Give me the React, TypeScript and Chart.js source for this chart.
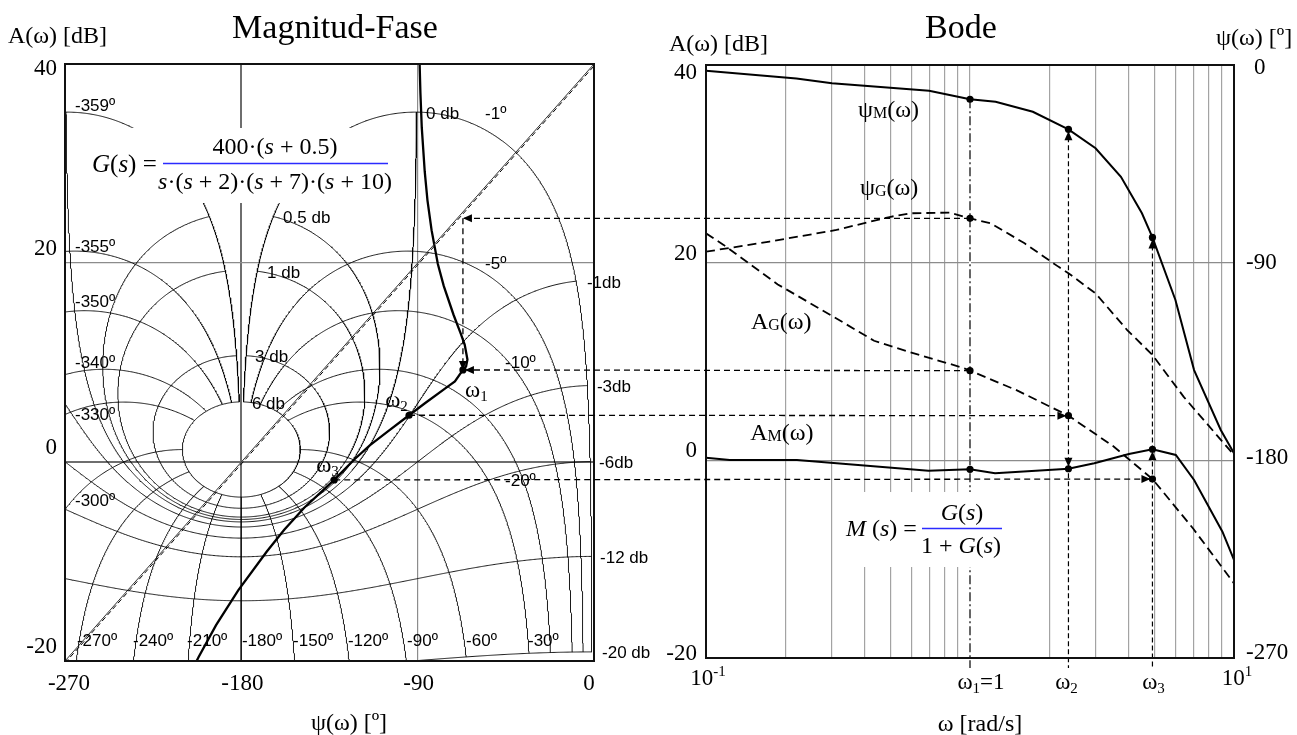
import React, { useEffect, useRef } from 'react';
import { Chart, registerables } from 'chart.js';
Chart.register(...registerables);

const SERIF = '"Liberation Serif", "Times New Roman", serif';
const SANS = '"Liberation Sans", Arial, sans-serif';

// ---------------- Magnitud-Fase (Nichols) ----------------
const nicholsXTicks = [-270, -180, -90, 0];
const nicholsYTicks = [-20, 0, 20, 40];
const mContoursDb = [-20, -12, -6, -3, -1, 0, 0.5, 1, 3, 6];
const nContoursDeg = [-1, -5, -10, -20, -30, -60, -90, -120, -150, -180, -210, -240, -270, -300, -330, -340, -350, -355, -359];
const locusPhase = [-89.0, -88.6, -87.9, -86.4, -85.0, -82.9, -79.7, -76.7, -71.7, -68.2, -66.0, -64.6, -65.3, -66.9, -71.0, -75.9, -86.3, -94.4, -105.7, -114.3, -122.1, -132.6, -147.9, -158.1, -167.0, -181.6, -192.9, -201.8, -205.6];
const locusGain = [40.0, 37.1, 33.6, 29.2, 26.3, 23.3, 19.9, 17.7, 14.8, 13.0, 11.8, 10.3, 9.6, 9.25, 8.1, 7.4, 5.9, 4.7, 3.0, 1.7, 0.3, -1.8, -4.6, -6.8, -9.0, -12.9, -16.4, -19.6, -21.1];
const markPhase = [-66.9, -94.4, -132.6];
const markGain = [9.25, 4.7, -1.8];
const diagPhase = [-270, 0];
const diagGain = [-20, 40];
const diagGainDashed = [-20.2, 39.8];

const gridLabels = [
  { t: '-359º', x: -264.9, y: 35.7 }, { t: '-355º', x: -264.9, y: 21.6 }, { t: '-350º', x: -264.9, y: 16.0 },
  { t: '-340º', x: -264.9, y: 9.95 }, { t: '-330º', x: -264.9, y: 4.7 }, { t: '-300º', x: -264.9, y: -4.0 },
  { t: '-270º', x: -263.9, y: -18.0 }, { t: '-240º', x: -235.3, y: -18.0 }, { t: '-210º', x: -207.7, y: -18.0 },
  { t: '-180º', x: -179.7, y: -18.0 }, { t: '-150º', x: -153.6, y: -18.0 }, { t: '-120º', x: -125.6, y: -18.0 },
  { t: '-90º', x: -95.4, y: -18.0 }, { t: '-60º', x: -65.3, y: -18.0 }, { t: '-30º', x: -33.7, y: -18.0 },
  { t: '-20º', x: -45.4, y: -1.9 }, { t: '-10º', x: -45.4, y: 9.95 }, { t: '-5º', x: -55.6, y: 19.9 },
  { t: '-1º', x: -55.6, y: 34.9 },
  { t: '0 db', x: -85.7, y: 34.9 }, { t: '0.5 db', x: -158.7, y: 24.5 }, { t: '1 db', x: -166.9, y: 19.0 },
  { t: '3 db', x: -173.0, y: 10.55 }, { t: '6 db', x: -174.6, y: 5.8 },
  { t: '-1db', x: -3.6, y: 18.0 }, { t: '-3db', x: 1.5, y: 7.55 }, { t: '-6db', x: 2.6, y: -0.1 },
  { t: '-12 db', x: 3.1, y: -9.65 }, { t: '-20 db', x: 4.1, y: -19.2 },
];
const omegaLabelPos = [
  { n: '1', x: -65.8, y: 7.2 }, { n: '2', x: -106.6, y: 6.2 }, { n: '3', x: -141.8, y: -0.3 },
];

// ---------------- Bode ----------------
const bodeGridOmega = [0.2, 0.3, 0.4, 0.5, 0.6, 0.7, 0.8, 0.9, 1, 2, 3, 4, 5, 6, 7, 8, 9];
const psiMOmega = [0.1, 0.22, 0.3, 0.7, 1, 1.25, 1.73, 2.36, 2.99, 3.73, 4.48, 4.91, 6.0, 7.06, 8.91, 10];
const psiM = [-2.6, -6.1, -8.3, -11.7, -15.6, -16.7, -21.3, -29.3, -37.9, -50.9, -67.5, -78.5, -107, -138.9, -166.2, -176.8];
const psiGOmega = [0.1, 0.174, 0.312, 0.5, 0.6, 0.836, 1, 1.2, 1.61, 2.16, 2.36, 2.99, 3.94, 4.91, 6.44, 10];
const psiG = [-85.0, -80.4, -75.1, -69.1, -67.5, -67.2, -69.8, -72.1, -81.2, -91.8, -94.8, -104.0, -120.7, -132.0, -151.0, -177.6];
const agOmega = [0.1, 0.1166, 0.187, 0.301, 0.433, 0.6, 0.93, 1, 1.5, 2.36, 3.5, 4.91, 7.0, 10];
const agDb = [22.97, 21.8, 17.8, 14.6, 12.1, 10.9, 9.4, 9.07, 7.1, 4.52, 1.4, -1.89, -6.9, -12.45];
const amOmega = [0.1, 0.123, 0.221, 0.696, 1, 1.244, 2.36, 2.956, 4.0, 4.91, 6.02, 7.06, 9.04, 10];
const amDb = [0.27, 0.03, 0.03, -1.05, -0.91, -1.31, -0.85, -0.30, 0.64, 1.12, 0.54, -1.99, -7.22, -10.08];
const markOmega = [1, 2.36, 4.91];
const markPsiM = [-15.6, -29.3, -78.5];
const markPsiG = [-69.8];
const markAG = [9.07, 4.52, -1.89];
const markAM = [-0.91, -0.85, 1.12];

const R_OFF = 650;

type Pt = { x: number; y: number };
type Part = { t: string; s: number; i?: boolean; dy?: number; fam?: string };

const fontOf = (p: Part) => `${p.i ? 'italic ' : ''}${p.s}px ${p.fam || SERIF}`;
function drawParts(ctx: CanvasRenderingContext2D, parts: Part[], x: number, baseline: number, align: string) {
  let w = 0;
  for (const p of parts) { ctx.font = fontOf(p); w += ctx.measureText(p.t).width; }
  let cx = align === 'center' ? x - w / 2 : align === 'right' ? x - w : x;
  ctx.textAlign = 'left';
  ctx.textBaseline = 'alphabetic';
  for (const p of parts) {
    ctx.font = fontOf(p);
    ctx.fillText(p.t, cx, baseline + (p.dy || 0));
    cx += ctx.measureText(p.t).width;
  }
}

function nicholsPt(mDb: number, phiDeg: number): Pt {
  const m = Math.pow(10, mDb / 20);
  const p = (phiDeg * Math.PI) / 180;
  const re = 1 - m * Math.cos(p);
  const im = -m * Math.sin(p);
  const mag = m / Math.hypot(re, im);
  return { x: phiDeg - (Math.atan2(im, re) * 180) / Math.PI, y: 20 * Math.log10(mag) };
}

function sampleCurve(f: (t: number) => Pt, t0: number, t1: number, n: number): Pt[] {
  const pts: Pt[] = [];
  const dist = (a: Pt, b: Pt) => Math.hypot((a.x - b.x) * 1.96, (a.y - b.y) * 9.95);
  const off = (a: Pt, b: Pt) => (a.y > 42 && b.y > 42) || (a.y < -22 && b.y < -22) || (a.x < -273 && b.x < -273) || (a.x > 3 && b.x > 3);
  const rec = (ta: number, pa: Pt, tb: number, pb: Pt, d: number) => {
    if (d >= 16 || dist(pa, pb) < 1.5 || off(pa, pb)) return;
    const tm = (ta + tb) / 2;
    const pm = f(tm);
    rec(ta, pa, tm, pm, d + 1);
    pts.push(pm);
    rec(tm, pm, tb, pb, d + 1);
  };
  let ta = t0;
  let pa = f(t0);
  pts.push(pa);
  for (let i = 1; i <= n; i++) {
    const tb = t0 + ((t1 - t0) * i) / n;
    const pb = f(tb);
    rec(ta, pa, tb, pb, 0);
    pts.push(pb);
    ta = tb;
    pa = pb;
  }
  return pts;
}

const zip = (xs: number[], ys: number[]) => xs.map((x, i) => ({ x, y: ys[i] }));

function arrow(ctx: CanvasRenderingContext2D, x: number, y: number, dir: string) {
  const L = 9, W = 4;
  ctx.beginPath();
  ctx.moveTo(x, y);
  if (dir === 'left') { ctx.lineTo(x + L, y - W); ctx.lineTo(x + L, y + W); }
  if (dir === 'right') { ctx.lineTo(x - L, y - W); ctx.lineTo(x - L, y + W); }
  if (dir === 'up') { ctx.lineTo(x - W, y + L); ctx.lineTo(x + W, y + L); }
  if (dir === 'down') { ctx.lineTo(x - W, y - L); ctx.lineTo(x + W, y - L); }
  ctx.closePath();
  ctx.fill();
}

function line(ctx: CanvasRenderingContext2D, x1: number, y1: number, x2: number, y2: number) {
  ctx.beginPath();
  ctx.moveTo(x1, y1);
  ctx.lineTo(x2, y2);
  ctx.stroke();
}

const thin = (data: Pt[]) => ({ data, showLine: true, borderColor: '#000', borderWidth: 0.9, pointRadius: 0, fill: false });
const dots = (data: Pt[], axis?: string) => ({ data, showLine: false, pointRadius: 3.6, pointBackgroundColor: '#000', pointBorderColor: '#000', pointBorderWidth: 0, ...(axis ? { yAxisID: axis } : {}) });

const nicholsDeco = {
  id: 'nicholsDeco',
  afterDatasetsDraw(chart: any) {
    const { ctx, chartArea: a } = chart;
    const sx = chart.scales.x, sy = chart.scales.y;
    ctx.save();
    // formula box
    ctx.fillStyle = '#fff';
    ctx.fillRect(88, 128, 304, 75);
    ctx.fillStyle = '#000';
    drawParts(ctx, [{ t: 'G', s: 25, i: true }, { t: '(', s: 25 }, { t: 's', s: 25, i: true }, { t: ') =', s: 25 }], 92, 172, 'left');
    drawParts(ctx, [{ t: '400·(', s: 24 }, { t: 's', s: 24, i: true }, { t: ' + 0.5)', s: 24 }], 275, 154, 'center');
    drawParts(ctx, [
      { t: 's', s: 24, i: true }, { t: '·(', s: 24 }, { t: 's', s: 24, i: true }, { t: ' + 2)·(', s: 24 },
      { t: 's', s: 24, i: true }, { t: ' + 7)·(', s: 24 }, { t: 's', s: 24, i: true }, { t: ' + 10)', s: 24 },
    ], 275, 189, 'center');
    ctx.strokeStyle = '#2b2bff';
    ctx.lineWidth = 1.6;
    line(ctx, 163, 163.5, 388, 163.5);

    // grid labels
    ctx.fillStyle = '#000';
    ctx.font = `17px ${SANS}`;
    ctx.textAlign = 'left';
    ctx.textBaseline = 'middle';
    for (const l of gridLabels) ctx.fillText(l.t, sx.getPixelForValue(l.x), sy.getPixelForValue(l.y));

    // omega labels
    for (const o of omegaLabelPos) {
      drawParts(ctx, [{ t: 'ω', s: 23 }, { t: o.n, s: 15, dy: 4 }], sx.getPixelForValue(o.x), sy.getPixelForValue(o.y) + 7, 'left');
    }

    // frame
    ctx.strokeStyle = '#111';
    ctx.lineWidth = 2;
    ctx.setLineDash([]);
    ctx.strokeRect(a.left, a.top, a.right - a.left, a.bottom - a.top);

    // tick labels
    ctx.fillStyle = '#000';
    for (const v of nicholsYTicks) {
      const py = sy.getPixelForValue(v);
      drawParts(ctx, [{ t: String(v), s: 23 }], a.left - 8, v === 40 ? py + 11 : py - 8, 'right');
    }
    for (const v of nicholsXTicks) {
      const px = sx.getPixelForValue(v) + (v === -270 ? 4 : v === 0 ? -5 : 1);
      drawParts(ctx, [{ t: String(v), s: 23 }], px, a.bottom + 29, 'center');
    }
    // titles
    drawParts(ctx, [{ t: 'A(ω) [dB]', s: 24 }], 8, 43, 'left');
    drawParts(ctx, [{ t: 'Magnitud-Fase', s: 34 }], 335, 38, 'center');
    drawParts(ctx, [{ t: 'ψ(ω) [º]', s: 24 }], 349, 730, 'center');
    ctx.restore();
  },
};

const bodeDeco = {
  id: 'bodeDeco',
  beforeDatasetsDraw(chart: any) {
    const { ctx, chartArea: a } = chart;
    const sx = chart.scales.x, sy1 = chart.scales.y1;
    ctx.save();
    markOmega.forEach((w, i) => {
      const px = sx.getPixelForValue(w);
      const top = sy1.getPixelForValue(markPsiM[i]);
      ctx.setLineDash([]);
      ctx.strokeStyle = '#fff';
      ctx.lineWidth = 2;
      line(ctx, px, top, px, a.bottom);
      ctx.strokeStyle = '#000';
      ctx.lineWidth = 1.2;
      ctx.setLineDash(i === 0 ? [9, 3, 2, 3] : [5, 3]);
      line(ctx, px, top, px, a.bottom + 10);
    });
    ctx.restore();
  },
  afterDatasetsDraw(chart: any) {
    const { ctx, chartArea: a } = chart;
    const sx = chart.scales.x, sy = chart.scales.y, sy1 = chart.scales.y1;
    ctx.save();
    // M(s) box
    ctx.fillStyle = '#fff';
    ctx.fillRect(188, 492, 167, 75);
    ctx.fillStyle = '#000';
    drawParts(ctx, [{ t: 'M', s: 24, i: true }, { t: ' (', s: 24 }, { t: 's', s: 24, i: true }, { t: ') =', s: 24 }], 196, 536, 'left');
    drawParts(ctx, [{ t: 'G', s: 24, i: true }, { t: '(', s: 24 }, { t: 's', s: 24, i: true }, { t: ')', s: 24 }], 312, 520, 'center');
    drawParts(ctx, [{ t: '1 + ', s: 24 }, { t: 'G', s: 24, i: true }, { t: '(', s: 24 }, { t: 's', s: 24, i: true }, { t: ')', s: 24 }], 311, 553, 'center');
    ctx.strokeStyle = '#2b2bff';
    ctx.lineWidth = 1.6;
    line(ctx, 272, 528.5, 352, 528.5);

    // curve labels
    ctx.fillStyle = '#000';
    const lab = (main: string, sub: string, w: number, db: number) =>
      drawParts(ctx, [{ t: main, s: 24 }, { t: sub, s: 16, dy: 1 }, { t: '(ω)', s: 24 }], sx.getPixelForValue(w), sy.getPixelForValue(db) + 7, 'left');
    lab('ψ', 'M', 0.3765, 35.45);
    lab('ψ', 'G', 0.383, 27.55);
    lab('A', 'G', 0.148, 14.0);
    lab('A', 'M', 0.147, 2.77);

    // frame
    ctx.strokeStyle = '#111';
    ctx.lineWidth = 2;
    ctx.setLineDash([]);
    ctx.strokeRect(a.left, a.top, a.right - a.left, a.bottom - a.top);

    // ticks
    for (const v of nicholsYTicks) {
      const py = sy.getPixelForValue(v);
      drawParts(ctx, [{ t: String(v), s: 23 }], a.left - 9, v === 40 ? py + 14 : v === -20 ? py + 2 : py - 3, 'right');
    }
    for (const v of [0, -90, -180, -270]) {
      const py = sy1.getPixelForValue(v);
      drawParts(ctx, [{ t: String(v), s: 23 }], a.right + 12 + (v === 0 ? 8 : 0), py + 9 - 8 * (-v / 270), 'left');
    }
    const xl = [
      { v: 0.1, p: [{ t: '10', s: 23 }, { t: '-1', s: 15, dy: -9 }], dx: 2, b: 27 },
      { v: markOmega[0], p: [{ t: 'ω', s: 23 }, { t: '1', s: 15, dy: 4 }, { t: '=1', s: 23 }], dx: 11, b: 31 },
      { v: markOmega[1], p: [{ t: 'ω', s: 23 }, { t: '2', s: 15, dy: 4 }], dx: -2, b: 31 },
      { v: markOmega[2], p: [{ t: 'ω', s: 23 }, { t: '3', s: 15, dy: 4 }], dx: 1, b: 31 },
      { v: 10, p: [{ t: '10', s: 23 }, { t: '1', s: 15, dy: -9 }], dx: 3, b: 27 },
    ];
    for (const l of xl) drawParts(ctx, l.p as Part[], sx.getPixelForValue(l.v) + l.dx, a.bottom + l.b, 'center');

    // titles
    drawParts(ctx, [{ t: 'A(ω) [dB]', s: 24 }], 19, 51, 'left');
    drawParts(ctx, [{ t: 'Bode', s: 34 }], 311, 38, 'center');
    drawParts(ctx, [{ t: 'ψ(ω) [º]', s: 24 }], 566, 45, 'left');
    drawParts(ctx, [{ t: 'ω [rad/s]', s: 24 }], 330, 731, 'center');
    ctx.restore();
  },
};

function leftConfig(): any {
  const datasets: any[] = [];
  for (const m of mContoursDb) datasets.push(thin(sampleCurve((p) => nicholsPt(m, p), -1, -359, 360)));
  for (const n of nContoursDeg) datasets.push(thin(sampleCurve((m) => nicholsPt(m, n), -20, 6, 260)));
  datasets.push({ data: zip(diagPhase, diagGain), showLine: true, borderColor: '#333', borderWidth: 1, pointRadius: 0 });
  datasets.push({ data: zip(diagPhase, diagGainDashed), showLine: true, borderColor: '#000', borderWidth: 1, borderDash: [5, 3], pointRadius: 0 });
  datasets.push({ data: zip(locusPhase, locusGain), showLine: true, borderColor: '#000', borderWidth: 2.3, pointRadius: 0 });
  datasets.push(dots(zip(markPhase, markGain)));
  return {
    type: 'scatter',
    data: { datasets },
    plugins: [nicholsDeco],
    options: {
      responsive: false,
      animation: false,
      events: [],
      layout: { padding: { left: 0, top: 64, right: 56, bottom: 0 } },
      plugins: { legend: { display: false }, tooltip: { enabled: false }, title: { display: false } },
      elements: { line: { tension: 0 } },
      scales: {
        x: {
          type: 'linear', min: -270, max: 0,
          afterBuildTicks: (s: any) => { s.ticks = nicholsXTicks.map((v) => ({ value: v })); },
          ticks: { display: false },
          border: { display: false },
          grid: {
            drawTicks: false,
            color: (c: any) => (c.tick && c.tick.value === -180 ? '#6e6e6e' : c.tick && c.tick.value === -90 ? '#8c8c8c' : 'rgba(0,0,0,0)'),
            lineWidth: (c: any) => (c.tick && c.tick.value === -180 ? 2 : 1.2),
          },
          afterFit: (s: any) => { s.height = 74; },
        },
        y: {
          type: 'linear', min: -20, max: 40,
          afterBuildTicks: (s: any) => { s.ticks = nicholsYTicks.map((v) => ({ value: v })); },
          ticks: { display: false },
          border: { display: false },
          grid: {
            drawTicks: false,
            color: (c: any) => (c.tick && c.tick.value === 0 ? '#6e6e6e' : c.tick && c.tick.value === 20 ? '#8c8c8c' : 'rgba(0,0,0,0)'),
            lineWidth: (c: any) => (c.tick && c.tick.value === 0 ? 2 : 1.2),
          },
          afterFit: (s: any) => { s.width = 65; },
        },
      },
    },
  };
}

function rightConfig(): any {
  const datasets: any[] = [
    { data: zip(psiMOmega, psiM), yAxisID: 'y1', showLine: true, borderColor: '#000', borderWidth: 2, pointRadius: 0 },
    { data: zip(psiGOmega, psiG), yAxisID: 'y1', showLine: true, borderColor: '#000', borderWidth: 1.8, borderDash: [9, 5], pointRadius: 0 },
    { data: zip(agOmega, agDb), yAxisID: 'y', showLine: true, borderColor: '#000', borderWidth: 1.8, borderDash: [9, 5], pointRadius: 0 },
    { data: zip(amOmega, amDb), yAxisID: 'y', showLine: true, borderColor: '#000', borderWidth: 2, pointRadius: 0 },
    dots(zip(markOmega, markPsiM), 'y1'),
    dots(zip([markOmega[0]], markPsiG), 'y1'),
    dots(zip(markOmega, markAG), 'y'),
    dots(zip(markOmega, markAM), 'y'),
  ];
  return {
    type: 'scatter',
    data: { datasets },
    plugins: [bodeDeco],
    options: {
      responsive: false,
      animation: false,
      events: [],
      layout: { padding: { left: 0, top: 65, right: 0, bottom: 0 } },
      plugins: { legend: { display: false }, tooltip: { enabled: false }, title: { display: false } },
      elements: { line: { tension: 0 } },
      scales: {
        x: {
          type: 'logarithmic', min: 0.1, max: 10,
          afterBuildTicks: (s: any) => { s.ticks = bodeGridOmega.map((v) => ({ value: v })); },
          ticks: { display: false },
          border: { display: false },
          grid: { drawTicks: false, color: '#a3a3a3', lineWidth: 1.2 },
          afterFit: (s: any) => { s.height = 77; },
        },
        y: {
          type: 'linear', position: 'left', min: -20, max: 40,
          afterBuildTicks: (s: any) => { s.ticks = [0, 20].map((v) => ({ value: v })); },
          ticks: { display: false },
          border: { display: false },
          grid: { drawTicks: false, color: '#8c8c8c', lineWidth: 1.2 },
          afterFit: (s: any) => { s.width = 56; },
        },
        y1: {
          type: 'linear', position: 'right', min: -270, max: 0,
          ticks: { display: false },
          border: { display: false },
          grid: { display: false, drawTicks: false },
          afterFit: (s: any) => { s.width = 63; },
        },
      },
    },
  };
}

function drawOverlay(ov: HTMLCanvasElement, L: any, R: any) {
  const dpr = window.devicePixelRatio || 1;
  ov.width = 1297 * dpr;
  ov.height = 735 * dpr;
  const ctx = ov.getContext('2d') as CanvasRenderingContext2D;
  ctx.setTransform(dpr, 0, 0, dpr, 0, 0);
  const lx = (v: number) => L.scales.x.getPixelForValue(v);
  const ly = (v: number) => L.scales.y.getPixelForValue(v);
  const rx = (v: number) => R_OFF + R.scales.x.getPixelForValue(v);
  const ry = (v: number) => R.scales.y.getPixelForValue(v);
  const ry1 = (v: number) => R.scales.y1.getPixelForValue(v);
  ctx.strokeStyle = '#000';
  ctx.fillStyle = '#000';
  ctx.lineWidth = 1.3;
  ctx.setLineDash([6, 4]);
  const yPsi = ry1(markPsiG[0]);
  const xN1 = lx(markPhase[0]);
  const yN1 = ly(markGain[0]);
  line(ctx, rx(markOmega[0]), yPsi, xN1, yPsi);
  line(ctx, xN1, yPsi, xN1, yN1);
  line(ctx, rx(markOmega[0]), ry(markAG[0]), xN1, yN1);
  for (let i = 1; i < 3; i++) line(ctx, lx(markPhase[i]), ly(markGain[i]), rx(markOmega[i]), ry(markAG[i]));
  ctx.setLineDash([]);
  arrow(ctx, xN1, yPsi, 'left');
  arrow(ctx, xN1, yN1, 'down');
  arrow(ctx, xN1 + 2, yN1, 'left');
  for (let i = 1; i < 3; i++) arrow(ctx, rx(markOmega[i]) - 2, ry(markAG[i]), 'right');
  for (let i = 1; i < 3; i++) arrow(ctx, rx(markOmega[i]), ry1(markPsiM[i]) + 2, 'up');
  arrow(ctx, rx(markOmega[1]), ry(markAM[1]) - 2, 'down');
  arrow(ctx, rx(markOmega[2]), ry(markAM[2]) + 2, 'up');
}

export default function App() {
  const lRef = useRef<HTMLCanvasElement>(null);
  const rRef = useRef<HTMLCanvasElement>(null);
  const oRef = useRef<HTMLCanvasElement>(null);
  useEffect(() => {
    const L = new Chart(lRef.current as HTMLCanvasElement, leftConfig());
    const R = new Chart(rRef.current as HTMLCanvasElement, rightConfig());
    drawOverlay(oRef.current as HTMLCanvasElement, L, R);
    return () => { L.destroy(); R.destroy(); };
  }, []);
  return (
    <div style={{ position: 'absolute', left: 0, top: 0, width: 1297, height: 735, background: '#fff', overflow: 'hidden' }}>
      <canvas ref={lRef} width={650} height={735} style={{ position: 'absolute', left: 0, top: 0, width: 650, height: 735 }} />
      <canvas ref={rRef} width={647} height={735} style={{ position: 'absolute', left: R_OFF, top: 0, width: 647, height: 735 }} />
      <canvas ref={oRef} style={{ position: 'absolute', left: 0, top: 0, width: 1297, height: 735, pointerEvents: 'none' }} />
    </div>
  );
}
